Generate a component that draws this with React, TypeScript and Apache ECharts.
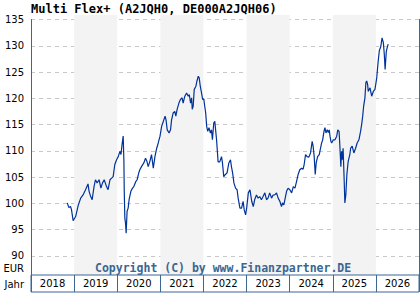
import React, { useEffect, useRef } from "react";
import * as echarts from "echarts";

const TITLE = "Multi Flex+ (A2JQH0, DE000A2JQH06)";
const COPYRIGHT = "Copyright (C) by www.Finanzpartner.DE";
const Y_UNIT = "EUR";
const X_UNIT = "Jahr";
const X_MIN = "2018-01-01";
const X_MAX = "2027-01-01";
const Y_MIN = 85;
const Y_MAX = 135;
const Y_STEP = 5;
const yearLabels = ["2018", "2019", "2020", "2021", "2022", "2023", "2024", "2025", "2026"];
const shadedYears = ["2019", "2021", "2023", "2025"];

const prices: [string, number][] = [
  ["2018-11-04", 100.1], ["2018-11-18", 99.2], ["2018-12-02", 99.4], ["2018-12-10", 98.8], ["2018-12-24", 96.7],
  ["2019-01-14", 97.5], ["2019-02-06", 99.7], ["2019-02-26", 101.0], ["2019-03-18", 101.6], ["2019-04-08", 102.6],
  ["2019-04-29", 103.7], ["2019-05-08", 102.3], ["2019-05-22", 101.3], ["2019-06-03", 100.7], ["2019-06-19", 103.2],
  ["2019-07-01", 104.5], ["2019-07-15", 103.9], ["2019-08-01", 104.5], ["2019-08-16", 102.9], ["2019-08-30", 103.9],
  ["2019-09-13", 104.5], ["2019-10-03", 103.2], ["2019-10-16", 102.6], ["2019-11-01", 104.5], ["2019-11-15", 104.8],
  ["2019-11-28", 105.1], ["2019-12-12", 107.4], ["2019-12-27", 108.3],
  ["2020-01-10", 108.9], ["2020-01-24", 109.9], ["2020-02-02", 109.3], ["2020-02-13", 111.5], ["2020-02-21", 112.8],
  ["2020-02-27", 108.0], ["2020-03-01", 102.3], ["2020-03-06", 97.2], ["2020-03-12", 96.2], ["2020-03-17", 94.3],
  ["2020-03-25", 98.5], ["2020-04-03", 99.1], ["2020-04-11", 100.7], ["2020-04-26", 102.3], ["2020-05-10", 102.9],
  ["2020-05-21", 103.2], ["2020-06-08", 104.2], ["2020-06-18", 104.5], ["2020-07-02", 105.8], ["2020-07-11", 106.4],
  ["2020-07-25", 107.0], ["2020-08-14", 107.7], ["2020-08-28", 108.6], ["2020-09-09", 108.0], ["2020-09-20", 107.0],
  ["2020-10-04", 108.0], ["2020-10-18", 109.3], ["2020-11-02", 106.7], ["2020-11-16", 108.9], ["2020-12-01", 110.5],
  ["2020-12-14", 111.5], ["2020-12-29", 112.8],
  ["2021-01-12", 114.7], ["2021-01-26", 115.6], ["2021-02-10", 116.6], ["2021-02-18", 115.9], ["2021-02-28", 114.0],
  ["2021-03-08", 113.7], ["2021-03-16", 113.4], ["2021-03-28", 114.0], ["2021-04-06", 115.9], ["2021-04-19", 117.2],
  ["2021-05-03", 117.5], ["2021-05-12", 116.6], ["2021-05-23", 117.9], ["2021-06-07", 119.1], ["2021-06-21", 119.8],
  ["2021-07-04", 120.1], ["2021-07-13", 119.1], ["2021-07-27", 120.4], ["2021-08-11", 121.0], ["2021-08-25", 120.4],
  ["2021-09-03", 120.7], ["2021-09-14", 119.1], ["2021-09-23", 120.1], ["2021-09-28", 117.9], ["2021-10-06", 118.5],
  ["2021-10-15", 121.7], ["2021-10-29", 122.3], ["2021-11-07", 123.3], ["2021-11-18", 124.2], ["2021-11-26", 123.9],
  ["2021-12-05", 122.3], ["2021-12-16", 121.0], ["2021-12-25", 119.8],
  ["2022-01-04", 119.9], ["2022-01-08", 119.1], ["2022-01-20", 117.2], ["2022-01-28", 114.7], ["2022-02-06", 113.7],
  ["2022-02-17", 114.4], ["2022-03-01", 113.4], ["2022-03-10", 114.0], ["2022-03-18", 112.1], ["2022-03-29", 115.3],
  ["2022-04-07", 115.6], ["2022-04-22", 112.1], ["2022-05-05", 107.9], ["2022-05-19", 107.9], ["2022-06-03", 108.9],
  ["2022-06-11", 107.7], ["2022-06-22", 105.1], ["2022-07-06", 105.5], ["2022-07-20", 105.8], ["2022-08-04", 107.7],
  ["2022-08-18", 108.3], ["2022-08-26", 107.0], ["2022-09-05", 105.8], ["2022-09-16", 103.9], ["2022-09-30", 102.9],
  ["2022-10-13", 102.6], ["2022-10-22", 101.0], ["2022-11-06", 99.1], ["2022-11-20", 99.1], ["2022-12-03", 100.4],
  ["2022-12-12", 98.8], ["2022-12-24", 97.8],
  ["2023-01-02", 99.1], ["2023-01-16", 102.0], ["2023-01-30", 102.6], ["2023-02-14", 100.4], ["2023-02-27", 99.4],
  ["2023-03-12", 100.8], ["2023-03-26", 101.6], ["2023-04-09", 101.0], ["2023-04-23", 101.3], ["2023-05-07", 100.7],
  ["2023-05-21", 101.3], ["2023-06-05", 102.0], ["2023-06-19", 100.7], ["2023-07-02", 101.0], ["2023-07-16", 102.0],
  ["2023-08-01", 101.0], ["2023-08-14", 101.6], ["2023-08-28", 101.6], ["2023-09-12", 102.0], ["2023-09-26", 101.0],
  ["2023-10-10", 100.4], ["2023-10-24", 99.4], ["2023-11-02", 100.1], ["2023-11-13", 99.7], ["2023-11-22", 100.7],
  ["2023-12-06", 102.3], ["2023-12-19", 102.9],
  ["2024-01-03", 102.6], ["2024-01-18", 102.0], ["2024-02-01", 103.2], ["2024-02-15", 102.9], ["2024-02-29", 104.2],
  ["2024-03-13", 105.5], ["2024-03-27", 106.4], ["2024-04-11", 106.7], ["2024-04-24", 106.5], ["2024-05-03", 107.4],
  ["2024-05-15", 109.3], ["2024-05-28", 108.9], ["2024-06-12", 108.8], ["2024-06-26", 109.6], ["2024-07-10", 111.8],
  ["2024-07-18", 110.9], ["2024-07-27", 108.9], ["2024-08-05", 105.5], ["2024-08-13", 107.7], ["2024-08-25", 108.9],
  ["2024-09-08", 109.3], ["2024-09-16", 110.2], ["2024-09-28", 111.5], ["2024-10-07", 112.1], ["2024-10-18", 113.7],
  ["2024-10-26", 114.4], ["2024-11-04", 113.4], ["2024-11-15", 114.0], ["2024-11-24", 113.5], ["2024-12-02", 114.0],
  ["2024-12-08", 112.8], ["2024-12-16", 111.8], ["2024-12-22", 111.5],
  ["2025-01-05", 112.1], ["2025-01-19", 112.1], ["2025-02-03", 112.8], ["2025-02-12", 114.0], ["2025-02-23", 113.7],
  ["2025-03-01", 111.2], ["2025-03-10", 107.0], ["2025-03-16", 109.9], ["2025-03-21", 108.3], ["2025-03-29", 110.5],
  ["2025-04-07", 104.5], ["2025-04-13", 100.1], ["2025-04-21", 101.6], ["2025-04-30", 105.5], ["2025-05-11", 108.0],
  ["2025-05-25", 109.3], ["2025-06-01", 110.5], ["2025-06-14", 110.9], ["2025-06-28", 109.6], ["2025-07-13", 110.5],
  ["2025-07-26", 111.5], ["2025-08-10", 112.1], ["2025-08-24", 113.7], ["2025-09-02", 115.0], ["2025-09-11", 116.6],
  ["2025-09-19", 118.5], ["2025-09-30", 120.1], ["2025-10-08", 123.0], ["2025-10-15", 123.3], ["2025-10-23", 122.6],
  ["2025-10-28", 121.3], ["2025-11-12", 122.0], ["2025-11-26", 120.4], ["2025-12-10", 121.3], ["2025-12-24", 121.7],
  ["2026-01-08", 123.9], ["2026-01-19", 126.8], ["2026-01-30", 129.1], ["2026-02-11", 129.8], ["2026-02-22", 131.5],
  ["2026-03-05", 130.6], ["2026-03-13", 128.4], ["2026-03-20", 125.5], ["2026-03-30", 128.9], ["2026-04-06", 129.6],
  ["2026-04-15", 130.3],
];

const BLUE = "#3a6793";
const LINE = "#003399";
const GRIDLINE = "#c8c8c8";
const SHADE = "#f3f3f3";
const LABEL_FONT = "DejaVu Sans";

export default function App() {
  const ref = useRef<HTMLDivElement>(null);
  useEffect(() => {
    if (!ref.current) return;
    const chart = echarts.init(ref.current, undefined, { renderer: "svg" });
    const option: any = {
      animation: false,
      backgroundColor: "#ffffff",
      title: {
        text: TITLE,
        left: 31,
        top: 3,
        padding: 0,
        textStyle: { fontFamily: "DejaVu Sans Mono", fontWeight: "bold", fontSize: 12, color: "#000" },
      },
      grid: [
        { left: 31, right: 1, top: 15, bottom: 18 },
        { left: 31, right: 1, top: 19.5, bottom: 17.8 },
        {
          left: 31, right: 1, top: 275, height: 17, show: true,
          backgroundColor: "#ffffff", borderColor: BLUE, borderWidth: 1, z: 5,
        },
      ],
      xAxis: [
        { type: "time", gridIndex: 0, min: X_MIN, max: X_MAX, show: false },
        { type: "time", gridIndex: 1, min: X_MIN, max: X_MAX, show: false },
        {
          type: "category", gridIndex: 2, data: yearLabels, boundaryGap: true, z: 6,
          axisLine: { show: false }, axisTick: { show: false },
          splitLine: { show: true, interval: 0, lineStyle: { color: BLUE, width: 1, type: "solid" } },
          axisLabel: { interval: 0, margin: -14, fontFamily: LABEL_FONT, fontSize: 10, color: "#000" },
        },
      ],
      yAxis: [
        { type: "value", gridIndex: 0, min: 0, max: 1, show: false },
        {
          type: "value", gridIndex: 1, min: Y_MIN, max: Y_MAX, interval: Y_STEP, z: 1,
          axisLine: { show: true, lineStyle: { color: BLUE, width: 1 } },
          axisTick: { show: false },
          axisLabel: { margin: 7, showMinLabel: false, fontFamily: LABEL_FONT, fontSize: 10, color: "#000" },
          splitLine: { show: true, lineStyle: { color: GRIDLINE, width: 1, type: [4, 4] } },
        },
        {
          type: "value", gridIndex: 1, position: "right", min: Y_MIN, max: Y_MAX, z: 1,
          axisLine: { show: true, lineStyle: { color: BLUE, width: 1 } },
          axisTick: { show: false }, axisLabel: { show: false }, splitLine: { show: false },
        },
        { type: "value", gridIndex: 2, show: false },
      ],
      graphic: [
        {
          type: "text", x: 24, y: 268, z: 10,
          style: { text: Y_UNIT, fill: "#000", font: `10px "${LABEL_FONT}"`, textAlign: "right", textVerticalAlign: "middle" },
        },
        {
          type: "text", x: 24, y: 284, z: 10,
          style: { text: X_UNIT, fill: "#000", font: `10px "${LABEL_FONT}"`, textAlign: "right", textVerticalAlign: "middle" },
        },
        {
          type: "text", x: 95, y: 268, z: 10,
          style: { text: COPYRIGHT, fill: BLUE, font: `bold 11.5px "DejaVu Sans Mono"`, textAlign: "left", textVerticalAlign: "middle" },
        },
      ],
      series: [
        {
          type: "line", xAxisIndex: 0, yAxisIndex: 0, data: [], z: 0, silent: true,
          markArea: {
            silent: true,
            itemStyle: { color: SHADE },
            data: shadedYears.map((y) => [{ xAxis: `${y}-01-01` }, { xAxis: `${Number(y) + 1}-01-01` }]),
          },
        },
        {
          type: "line", xAxisIndex: 1, yAxisIndex: 1, data: prices, z: 3,
          showSymbol: false, symbol: "none", silent: true,
          lineStyle: { color: LINE, width: 1.2 },
        },
      ],
    };
    chart.setOption(option);
    return () => chart.dispose();
  }, []);
  return <div ref={ref} style={{ position: "fixed", left: 0, top: 0, width: 420, height: 300 }} />;
}
